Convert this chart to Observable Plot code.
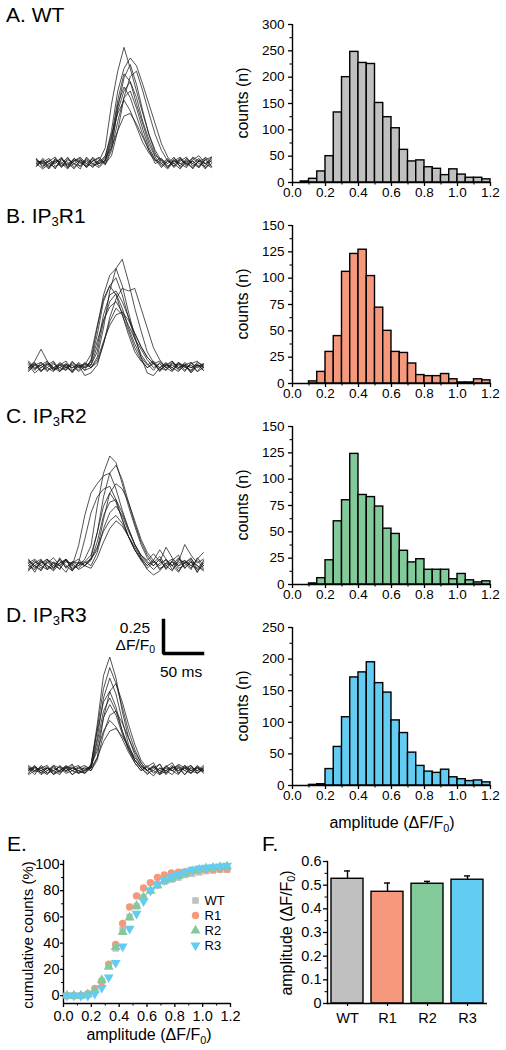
<!DOCTYPE html>
<html><head><meta charset="utf-8">
<script src="https://cdn.jsdelivr.net/npm/d3@7"></script>
<script src="https://cdn.jsdelivr.net/npm/@observablehq/plot@0.6"></script>
<style>
html,body{margin:0;padding:0;background:#fff;}
#fig{position:relative;width:506px;height:1050px;overflow:hidden;font-family:'Liberation Sans',Arial,sans-serif;color:#000;}
.txt{position:absolute;white-space:nowrap;line-height:1;}
.rot{position:absolute;white-space:nowrap;line-height:1;transform:translate(-50%,-50%) rotate(-90deg);}
.sub{font-size:0.68em;position:relative;top:0.3em;}
.sub3{font-size:0.62em;position:relative;top:0.25em;}
</style></head><body><div id="fig"></div>
<script>
// ---------------- data ----------------
const seriesNames = ["WT", "R1", "R2", "R3"];
const groupColors = ["#c0c0c0", "#f6987c", "#82ca9a", "#62ccf3"];

// histogram bins (left edges) and width
const binStart = [0,0.05,0.1,0.15,0.2,0.25,0.3,0.35,0.4,0.45,0.5,0.55,0.6,0.65,0.7,0.75,0.8,0.85,0.9,0.95,1.0,1.05,1.1,1.15];
const binWidth = 0.05;
const histWT = [0,2,7,21,50,133,200,248,227,225,151,124,103,62,40,42,29,26,14,25,15,9,9,6];
const histR1 = [0,0,2,11,30,45,106,123,127,102,72,50,30,29,19,8,7,7,9,4,1,1,4,3];
const histR2 = [0,0,1,6,23,60,80,124,85,83,74,53,48,32,21,24,14,14,14,5,10,4,2,3];
const histR3 = [0,0,1,2,26,61,108,171,179,195,162,147,103,83,52,31,22,20,25,13,10,7,8,5];

const histXTicks = [0,0.2,0.4,0.6,0.8,1.0,1.2];
const histXMinor = [0.1,0.3,0.5,0.7,0.9,1.1];
const yTicksWT = [0,50,100,150,200,250,300];
const yMinorWT = [25,75,125,175,225,275];
const yTicksR1 = [0,25,50,75,100,125,150];
const yMinorR1 = [12.5,37.5,62.5,87.5,112.5,137.5];
const yTicksR2 = [0,25,50,75,100,125,150];
const yMinorR2 = [12.5,37.5,62.5,87.5,112.5,137.5];
const yTicksR3 = [0,50,100,150,200,250];
const yMinorR3 = [25,75,125,175,225];

// example traces (time in ms, amplitude in ΔF/F0)
const traceTime = [0,8,16,24,32,40,48,56,64,72,80,88,96,104,112,120,128,136,144,152,160,168,176,184,192,200,208,216,224];
const tracesWT = [
 [0.0,0.02,-0.03,0.04,-0.02,0.03,0.0,-0.04,0.05,0.0,0.02,0.12,0.45,0.70,0.88,0.72,0.55,0.38,0.22,0.10,0.02,-0.03,0.03,-0.02,0.04,0.0,-0.03,0.05,0.01],
 [0.03,-0.02,0.03,0.0,0.05,-0.03,0.02,0.04,-0.02,0.03,0.0,0.05,0.25,0.55,0.72,0.80,0.74,0.60,0.45,0.30,0.15,0.05,0.0,0.04,-0.02,0.03,0.06,0.0,0.04],
 [0.02,0.0,-0.04,0.03,0.01,-0.02,0.04,0.0,0.02,-0.03,0.03,0.0,0.12,0.42,0.65,0.75,0.60,0.40,0.22,0.08,0.0,-0.04,0.02,0.05,-0.01,0.02,-0.03,0.03,-0.02],
 [-0.02,0.04,0.0,-0.03,0.03,0.01,-0.04,0.03,0.0,0.04,-0.02,0.03,0.20,0.48,0.68,0.62,0.45,0.30,0.15,0.05,-0.02,0.03,-0.03,0.02,0.05,-0.02,0.02,-0.04,0.03],
 [0.04,-0.03,0.02,0.05,-0.02,0.0,0.03,-0.02,0.04,0.0,-0.03,0.02,0.15,0.40,0.55,0.62,0.50,0.32,0.18,0.06,0.03,0.0,0.05,-0.03,0.01,0.04,0.0,-0.02,0.05],
 [-0.01,0.01,0.04,-0.02,0.0,0.05,-0.03,0.02,-0.03,0.02,0.04,-0.01,0.10,0.32,0.50,0.55,0.42,0.26,0.12,0.03,-0.03,0.02,0.0,-0.04,0.03,0.0,0.04,-0.03,0.0],
 [0.03,0.0,0.02,-0.04,0.04,-0.01,0.02,0.05,0.0,-0.02,0.01,0.06,0.22,0.38,0.48,0.40,0.28,0.16,0.08,0.02,0.04,-0.02,0.02,0.0,-0.03,0.05,0.02,0.0,-0.03],
 [0.0,-0.04,0.0,0.02,-0.03,0.04,0.0,-0.02,0.03,-0.01,0.0,0.04,0.12,0.25,0.36,0.38,0.30,0.20,0.10,0.03,0.0,0.04,-0.02,0.03,0.0,-0.03,0.02,0.04,-0.02],
 [-0.02,0.03,-0.02,0.01,0.04,-0.03,0.0,0.03,-0.03,0.02,0.05,0.0,0.06,0.25,0.50,0.66,0.70,0.55,0.38,0.22,0.10,0.02,-0.02,0.04,0.0,0.02,-0.02,0.03,0.05],
 [0.01,0.02,-0.03,0.03,0.0,-0.04,0.04,0.01,-0.02,0.05,0.0,0.02,0.18,0.45,0.58,0.50,0.36,0.22,0.10,0.0,0.03,-0.03,0.04,0.0,0.02,-0.04,0.03,0.0,0.02]
];
const tracesR1 = [
 [0.03,-0.02,0.04,0.0,-0.03,0.02,0.05,-0.02,0.01,0.03,0.0,0.08,0.30,0.58,0.75,0.82,0.65,0.45,0.28,0.12,0.04,-0.03,0.02,0.0,0.04,-0.02,0.03,0.05,0.0],
 [-0.02,0.03,0.0,0.04,-0.01,0.0,0.03,-0.04,0.02,0.0,0.05,0.25,0.50,0.62,0.68,0.55,0.38,0.22,0.10,0.03,-0.02,0.04,0.0,-0.03,0.03,0.01,-0.02,0.04,0.02],
 [0.0,0.04,-0.03,0.02,0.05,-0.02,0.0,0.03,-0.02,0.04,0.0,0.04,0.18,0.38,0.52,0.60,0.58,0.60,0.45,0.30,0.15,0.06,0.0,0.05,-0.02,0.02,0.04,-0.03,0.03],
 [0.05,0.0,0.02,-0.03,0.03,0.0,-0.02,0.04,0.0,0.02,0.10,0.32,0.52,0.62,0.55,0.40,0.25,0.12,0.05,0.0,0.04,-0.02,0.03,0.0,-0.03,0.02,0.0,0.03,-0.02],
 [-0.03,0.02,0.04,-0.02,0.0,0.03,0.01,-0.03,0.04,0.0,0.02,0.12,0.35,0.50,0.56,0.45,0.30,0.18,0.08,0.02,0.05,0.0,-0.02,0.03,0.02,-0.03,0.04,0.0,0.02],
 [0.02,-0.04,0.0,0.03,-0.02,0.04,0.0,0.02,-0.03,0.01,0.04,0.20,0.36,0.46,0.50,0.42,0.32,0.22,0.14,0.06,0.0,0.03,-0.02,0.04,0.0,0.02,-0.04,0.01,0.03],
 [0.0,0.03,-0.02,0.0,0.04,-0.03,0.02,0.0,0.03,-0.02,0.0,0.06,0.20,0.32,0.40,0.42,0.36,0.26,0.16,0.08,0.03,0.0,0.04,-0.02,0.03,0.0,0.02,-0.03,0.0],
 [0.04,-0.01,0.02,0.05,0.0,-0.03,0.03,0.0,0.02,-0.02,0.06,0.30,0.55,0.70,0.75,0.62,0.42,0.24,0.08,-0.04,-0.06,0.0,0.03,-0.02,0.04,0.01,-0.03,0.02,0.0],
 [-0.01,0.02,-0.03,0.03,0.0,0.02,-0.02,0.05,0.0,0.03,0.02,0.16,0.40,0.55,0.58,0.50,0.38,0.26,0.16,0.08,0.03,0.05,0.0,0.02,-0.01,0.04,0.0,0.02,-0.02],
 [0.0,0.05,0.14,0.05,-0.02,0.02,0.0,-0.03,0.02,-0.06,-0.04,0.02,0.18,0.35,0.45,0.40,0.28,0.15,0.06,0.0,0.03,-0.02,0.02,0.05,0.0,0.03,-0.03,0.02,0.01]
];
const tracesR2 = [
 [0.02,-0.05,0.04,0.0,-0.03,0.06,-0.02,0.03,0.0,0.05,0.15,0.45,0.70,0.83,0.78,0.62,0.45,0.30,0.16,0.06,0.0,0.05,-0.03,0.04,0.08,-0.02,0.03,-0.05,0.04],
 [-0.04,0.03,0.0,0.05,-0.02,0.02,0.05,-0.04,0.03,0.0,0.06,0.25,0.52,0.70,0.76,0.65,0.48,0.32,0.18,0.08,0.02,0.07,0.0,-0.04,0.05,0.02,-0.03,0.06,0.0],
 [0.03,0.0,-0.04,0.04,0.02,-0.03,0.05,0.0,0.15,0.38,0.55,0.62,0.68,0.70,0.58,0.42,0.28,0.16,0.08,0.04,0.09,0.03,0.14,0.06,0.0,0.04,-0.02,0.05,0.10],
 [0.0,0.04,-0.02,0.02,0.06,0.0,-0.05,0.03,0.02,0.20,0.40,0.52,0.58,0.60,0.50,0.35,0.22,0.12,0.05,0.0,0.04,-0.03,0.02,0.0,0.06,-0.02,0.03,0.0,-0.04],
 [0.05,-0.02,0.03,0.0,-0.04,0.02,0.04,0.0,-0.02,0.03,0.08,0.25,0.45,0.55,0.48,0.35,0.22,0.12,0.04,-0.02,0.03,0.0,0.05,-0.03,0.02,0.04,0.0,-0.02,0.03],
 [-0.02,0.02,0.05,-0.03,0.0,0.04,-0.01,0.02,0.05,0.0,0.04,0.18,0.38,0.48,0.50,0.40,0.28,0.16,0.07,0.02,-0.03,0.02,0.04,0.0,-0.05,0.03,0.0,0.04,-0.02],
 [0.04,0.0,-0.03,0.03,-0.02,0.05,0.0,-0.04,0.02,0.03,0.0,0.10,0.28,0.40,0.45,0.38,0.26,0.16,0.08,0.03,0.0,0.05,-0.02,0.03,0.0,0.02,0.06,-0.03,0.0],
 [0.0,-0.03,0.02,0.05,0.0,-0.02,0.03,0.02,-0.03,0.0,0.05,0.14,0.26,0.34,0.38,0.32,0.22,0.12,0.05,-0.03,-0.07,-0.04,0.02,0.05,-0.02,0.0,0.04,-0.05,0.02],
 [0.02,0.05,0.0,-0.03,0.03,0.0,0.04,-0.02,0.0,0.02,0.05,0.12,0.35,0.55,0.62,0.58,0.48,0.34,0.20,0.10,0.04,0.12,0.05,0.0,0.03,0.16,0.08,0.02,0.05],
 [-0.03,0.0,0.04,-0.02,0.02,0.0,0.05,-0.03,0.02,0.0,-0.02,0.06,0.18,0.28,0.34,0.30,0.22,0.14,0.06,0.0,0.04,-0.02,0.0,0.03,-0.04,0.02,0.05,0.0,-0.03]
];
const tracesR3 = [
 [0.02,-0.03,0.04,0.0,0.03,-0.02,0.02,0.05,-0.02,0.0,0.04,0.35,0.72,0.86,0.70,0.45,0.25,0.12,0.04,0.0,0.03,-0.02,0.04,0.0,0.02,-0.03,0.03,0.0,0.02],
 [-0.02,0.03,0.0,-0.03,0.04,0.02,-0.02,0.0,0.03,0.01,0.02,0.25,0.55,0.70,0.58,0.38,0.20,0.08,0.02,-0.03,0.02,0.05,-0.02,0.03,0.0,0.04,-0.02,0.02,-0.01],
 [0.03,0.0,0.02,0.04,-0.02,0.0,0.03,-0.03,0.02,0.04,0.0,0.10,0.40,0.60,0.66,0.52,0.35,0.20,0.08,0.02,0.0,-0.03,0.03,0.0,0.05,0.02,-0.02,0.04,0.0],
 [0.0,0.04,-0.02,0.02,0.0,0.03,-0.01,0.02,0.0,-0.02,0.05,0.30,0.52,0.60,0.48,0.30,0.16,0.06,0.0,0.04,-0.02,0.02,0.0,-0.03,0.03,0.0,0.04,-0.02,0.02],
 [-0.03,0.0,0.03,-0.02,0.02,0.0,0.04,0.0,-0.02,0.03,0.02,0.22,0.45,0.55,0.45,0.30,0.18,0.08,0.03,0.0,0.04,0.0,0.03,0.06,-0.02,0.02,0.0,0.03,-0.02],
 [0.02,-0.01,0.0,0.03,-0.03,0.04,0.0,0.02,0.04,-0.02,0.03,0.18,0.40,0.50,0.42,0.28,0.16,0.08,0.02,-0.02,0.0,0.05,-0.03,0.02,0.04,0.0,-0.02,0.03,0.0],
 [0.0,0.02,-0.03,0.0,0.04,-0.01,0.02,-0.03,0.0,0.02,0.0,0.08,0.28,0.42,0.45,0.36,0.25,0.14,0.06,0.0,-0.04,0.02,0.0,0.04,-0.02,0.03,0.0,-0.02,0.03],
 [0.04,0.0,0.02,-0.02,0.0,0.03,0.0,0.04,-0.02,0.0,0.04,0.15,0.30,0.38,0.33,0.24,0.14,0.06,0.0,0.03,0.06,-0.03,0.0,0.02,0.03,-0.03,0.02,0.0,0.04],
 [-0.02,0.03,0.0,0.02,-0.03,0.0,0.03,0.02,0.0,-0.02,0.02,0.10,0.22,0.30,0.32,0.26,0.18,0.10,0.04,0.0,0.03,-0.02,0.02,0.0,-0.03,0.04,0.0,0.02,0.0],
 [0.01,0.03,-0.02,0.02,0.0,-0.03,0.03,0.0,0.02,0.0,0.03,0.32,0.62,0.78,0.66,0.48,0.30,0.16,0.06,0.0,0.03,0.0,-0.02,0.03,0.0,0.02,0.04,-0.02,0.01]
];
// scale bar values
const scaleBarTime = 50;    // ms
const scaleBarAmp = 0.25;   // ΔF/F0

// cumulative distribution (panel E)
const cumX = [0.025,0.075,0.125,0.175,0.225,0.275,0.325,0.375,0.425,0.475,0.525,0.575,0.625,0.675,0.725,0.775,0.825,0.875,0.925,0.975,1.025,1.075,1.125,1.175];
const cumWT = [0,0,0,1,4,11,23,36,50,60,68,75,80,84,87,88.5,90,92,93,94,95,95.5,96,96];
const cumR1 = [0,0,0,1.5,5.5,10.5,24,39,55,67.5,76,82,86,90,92,93.5,94,94.5,95,95.5,96,96,96.5,96.5];
const cumR2 = [0,0,0,1,4,12,22,37,48.5,59.5,68.5,75,80,84,87.5,89,91,93,95,96,97,97.5,98,98.5];
const cumR3 = [0,0,0,0,1.5,6,14,25,37.5,51,62.5,72,80,85,88,90.5,92.5,94.5,96,97,97.5,98,98.5,99];
const cumXTicks = [0,0.2,0.4,0.6,0.8,1.0,1.2];
const cumXMinor = [0.1,0.3,0.5,0.7,0.9,1.1];
const cumYTicks = [0,20,40,60,80,100];
const cumYMinor = [10,30,50,70,90];

// mean amplitude (panel F)
const ampMean = [0.527, 0.472, 0.506, 0.523];
const ampSem = [0.033, 0.037, 0.010, 0.016];
const ampYTicks = [0,0.1,0.2,0.3,0.4,0.5,0.6];
const ampYMinor = [0.05,0.15,0.25,0.35,0.45,0.55];

// ---------------- helpers ----------------
const fig = document.getElementById("fig");
const FONT = "'Liberation Sans', Arial, sans-serif";
function style(size) { return {fontFamily: FONT, fontSize: size + "px", color: "#000", background: "transparent", overflow: "visible"}; }
function place(el, left, top) { el.style.position = "absolute"; el.style.left = left + "px"; el.style.top = top + "px"; fig.appendChild(el); }
function text(html, x, baseline, size, align) {
  const d = document.createElement("div"); d.className = "txt"; d.innerHTML = html;
  d.style.fontSize = size + "px"; d.style.left = x + "px"; d.style.top = (baseline - 0.8465 * size) + "px";
  if (align === "end") d.style.transform = "translateX(-100%)";
  if (align === "middle") d.style.transform = "translateX(-50%)";
  fig.appendChild(d);
}
function vtext(html, cx, cy, size) {
  const d = document.createElement("div"); d.className = "rot"; d.innerHTML = html;
  d.style.fontSize = size + "px"; d.style.left = cx + "px"; d.style.top = cy + "px";
  fig.appendChild(d);
}
const AMP = "amplitude (ΔF/F<span class='sub'>0</span>)";

// ---------------- histograms ----------------
function histogram(counts, color, yTicks, yMinor, left, top) {
  const rows = binStart.map((x0, i) => ({x1: x0, x2: x0 + binWidth, n: counts[i]}));
  const p = Plot.plot({
    width: 266, height: 196, marginLeft: 52, marginRight: 16, marginTop: 14, marginBottom: 24,
    style: style(13.5),
    x: {domain: [0, 1.2]}, y: {domain: [0, yTicks[yTicks.length - 1]]},
    marks: [
      Plot.rect(rows, {x1: "x1", x2: "x2", y1: 0, y2: "n", fill: color, stroke: "#000", strokeWidth: 1.4}),
      Plot.ruleY([0], {stroke: "#000", strokeWidth: 1.4}),
      Plot.ruleX([0], {stroke: "#000", strokeWidth: 1.4}),
      Plot.axisX(histXTicks, {tickSize: 4, tickPadding: 1, tickFormat: d3.format(".1f"), label: null, strokeWidth: 1.3}),
      Plot.axisX(histXMinor, {tickSize: 2.5, fill: "none", label: null, strokeWidth: 1.1}),
      Plot.axisY(yTicks, {tickSize: 4, tickPadding: 4, label: null, strokeWidth: 1.3}),
      Plot.axisY(yMinor, {tickSize: 2.5, fill: "none", label: null, strokeWidth: 1.1})
    ]
  });
  place(p, left, top);
}
histogram(histWT, groupColors[0], yTicksWT, yMinorWT, 240, 10);
histogram(histR1, groupColors[1], yTicksR1, yMinorR1, 240, 211);
histogram(histR2, groupColors[2], yTicksR2, yMinorR2, 240, 412);
histogram(histR3, groupColors[3], yTicksR3, yMinorR3, 240, 613);
[103, 304, 505, 706].forEach(cy => vtext("counts (n)", 243, cy, 16));
text(AMP, 392, 829, 16, "middle");

// ---------------- traces ----------------
function tracePanel(traces, left, top) {
  const rows = traces.flatMap((tr, k) => tr.map((v, i) => ({k, t: traceTime[i], v})));
  const p = Plot.plot({
    width: 175, height: 152, margin: 0, style: style(10),
    x: {domain: [0, 224], axis: null}, y: {domain: [-0.15, 1.0], axis: null},
    marks: [Plot.line(rows, {x: "t", y: "v", z: "k", stroke: "#1a1a1a", strokeWidth: 0.75})]
  });
  place(p, left, top);
}
tracePanel(tracesWT, 36, 31);
tracePanel(tracesR1, 28, 235);
tracePanel(tracesR2, 28, 433);
tracePanel(tracesR3, 28, 638);

// scale bar (same px-per-unit as the traces)
{
  const pts = [{t: 0, v: scaleBarAmp}, {t: 0, v: 0}, {t: scaleBarTime, v: 0}];
  const p = Plot.plot({
    width: 45, height: 39, margin: 3, style: style(10),
    x: {domain: [0, scaleBarTime], axis: null}, y: {domain: [0, scaleBarAmp], axis: null},
    marks: [Plot.line(pts, {x: "t", y: "v", stroke: "#000", strokeWidth: 3.5, strokeLinejoin: "miter", strokeLinecap: "square"})]
  });
  place(p, 160, 617);
  text(String(scaleBarAmp), 150, 633, 15.5, "end");
  text("ΔF/F<span class='sub'>0</span>", 155, 650, 15.5, "end");
  text(scaleBarTime + " ms", 160, 677, 15.5);
}

// panel titles
text("A. WT", 6, 22, 21);
text("B. IP<span class='sub3'>3</span>R1", 6, 223, 21);
text("C. IP<span class='sub3'>3</span>R2", 6, 423, 21);
text("D. IP<span class='sub3'>3</span>R3", 6, 622, 21);
text("E.", 7, 851, 21);
text("F.", 262, 851, 21);

// ---------------- panel E ----------------
const triangleDown = {draw(ctx, size) {
  const s3 = Math.sqrt(3); const y = -Math.sqrt(size / (s3 * 3));
  ctx.moveTo(0, -y * 2); ctx.lineTo(-s3 * y, y); ctx.lineTo(s3 * y, y); ctx.closePath();
}};
const seriesSymbols = [d3.symbolSquare, d3.symbolCircle, d3.symbolTriangle, triangleDown];
const cumAll = [cumWT, cumR1, cumR2, cumR3];
const cumRows = seriesNames.flatMap((s, k) => cumAll[k].map((v, i) => ({s, x: cumX[i], v})));
{
  const p = Plot.plot({
    width: 245, height: 175, marginLeft: 63, marginRight: 15, marginTop: 10, marginBottom: 22,
    style: style(14.5),
    x: {domain: [0, 1.2]}, y: {domain: [-6, 103]},
    symbol: {domain: seriesNames, range: seriesSymbols},
    color: {domain: seriesNames, range: groupColors},
    marks: [
      Plot.ruleY([-6], {stroke: "#000", strokeWidth: 1.4}),
      Plot.ruleX([0], {stroke: "#000", strokeWidth: 1.4}),
      Plot.axisX(cumXTicks, {tickSize: 4, tickPadding: 3, tickFormat: d3.format(".1f"), label: null, strokeWidth: 1.3}),
      Plot.axisX(cumXMinor, {tickSize: 2.5, fill: "none", label: null}),
      Plot.axisY(cumYTicks, {tickSize: 3, tickPadding: 1, label: null, strokeWidth: 1.3}),
      Plot.axisY(cumYMinor, {tickSize: 2, fill: "none", label: null}),
      Plot.dot(cumRows, {x: "x", y: "v", symbol: "s", fill: "s", r: 3.7})
    ]
  });
  place(p, 0, 850);
  // legend
  const lg = Plot.plot({
    width: 55, height: 59, marginTop: 7, marginBottom: 7, marginLeft: 8, marginRight: 0,
    style: style(13),
    x: {domain: [0, 1], axis: null}, y: {type: "point", domain: seriesNames, padding: 0, axis: null},
    symbol: {domain: seriesNames, range: seriesSymbols},
    color: {domain: seriesNames, range: groupColors},
    marks: [
      Plot.dot(seriesNames, {x: () => 0, y: d => d, symbol: d => d, fill: d => d, r: 3.7}),
      Plot.text(seriesNames, {x: () => 0, y: d => d, text: d => d, dx: 9, textAnchor: "start", fill: "#000"})
    ]
  });
  place(lg, 187, 893);
  vtext("cumulative counts (%)", 27, 935, 15);
  text(AMP, 149, 1041, 16, "middle");
}

// ---------------- panel F ----------------
{
  const fRows = seriesNames.map((s, i) => ({s, mean: ampMean[i], sem: ampSem[i]}));
  const p = Plot.plot({
    width: 246, height: 180, marginLeft: 67, marginRight: 19, marginTop: 11, marginBottom: 27,
    style: style(14.5),
    x: {domain: seriesNames, paddingInner: 0.2, paddingOuter: 0.1},
    y: {domain: [0, 0.6]},
    color: {domain: seriesNames, range: groupColors},
    marks: [
      Plot.barY(fRows, {x: "s", y: "mean", fill: "s", stroke: "#000", strokeWidth: 1.4}),
      Plot.ruleX(fRows, {x: "s", y1: "mean", y2: d => d.mean + d.sem, stroke: "#000", strokeWidth: 1.4}),
      Plot.tickY(fRows, {x: "s", y: d => d.mean + d.sem, insetLeft: 13, insetRight: 13, stroke: "#000", strokeWidth: 1.4}),
      Plot.ruleY([0], {stroke: "#000", strokeWidth: 1.4}),
      Plot.frame({anchor: "left", stroke: "#000", strokeWidth: 1.4}),
      Plot.axisX({tickSize: 3, tickPadding: 6, label: null, strokeWidth: 1.2}),
      Plot.axisY(ampYTicks, {tickSize: 4, tickPadding: 2, label: null, strokeWidth: 1.3, tickFormat: d => d === 0 ? "0" : d.toFixed(1)}),
      Plot.axisY(ampYMinor, {tickSize: 2.5, fill: "none", label: null})
    ]
  });
  place(p, 260, 850);
  vtext(AMP, 287, 933, 16);
}
</script></body></html>
